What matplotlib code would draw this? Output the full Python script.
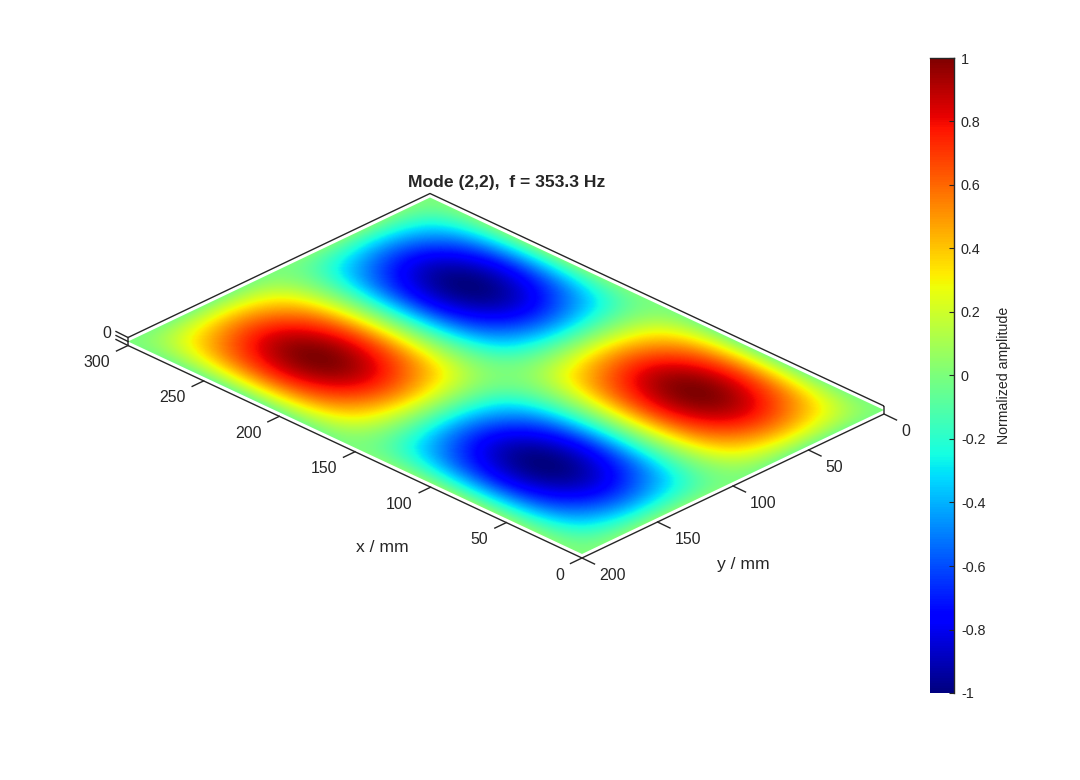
import numpy as np
import matplotlib
matplotlib.use("Agg")
import matplotlib.pyplot as plt
from matplotlib.patches import Polygon
from matplotlib.transforms import Affine2D

plt.rcParams['font.family'] = ['Liberation Sans', 'DejaVu Sans']

# values, rows are y = 0, 25 ... 200, columns are x = 0, 25 ... 300
x_grid = [0, 25, 50, 75, 100, 125, 150, 175, 200, 225, 250, 275, 300]
y_grid = [0, 25, 50, 75, 100, 125, 150, 175, 200]
amplitude = [
    [0, 0, 0, 0, 0, 0, 0, 0, 0, 0, 0, 0, 0],
    [0, 0.39, 0.64, 0.73, 0.64, 0.39, 0, -0.39, -0.64, -0.73, -0.64, -0.39, 0],
    [0, 0.54, 0.88, 1.00, 0.88, 0.54, 0, -0.54, -0.88, -1.00, -0.88, -0.54, 0],
    [0, 0.39, 0.64, 0.73, 0.64, 0.39, 0, -0.39, -0.64, -0.73, -0.64, -0.39, 0],
    [0, 0, 0, 0, 0, 0, 0, 0, 0, 0, 0, 0, 0],
    [0, -0.39, -0.64, -0.73, -0.64, -0.39, 0, 0.39, 0.64, 0.73, 0.64, 0.39, 0],
    [0, -0.54, -0.88, -1.00, -0.88, -0.54, 0, 0.54, 0.88, 1.00, 0.88, 0.54, 0],
    [0, -0.39, -0.64, -0.73, -0.64, -0.39, 0, 0.39, 0.64, 0.73, 0.64, 0.39, 0],
    [0, 0, 0, 0, 0, 0, 0, 0, 0, 0, 0, 0, 0],
]
x_ticks = [0, 50, 100, 150, 200, 250, 300]
y_ticks = [0, 50, 100, 150, 200]
z_ticks = [-1, 0, 1]
cbar_ticks = [-1, -0.8, -0.6, -0.4, -0.2, 0, 0.2, 0.4, 0.6, 0.8, 1]
cbar_labels = ['-1', '-0.8', '-0.6', '-0.4', '-0.2', '0', '0.2', '0.4', '0.6', '0.8', '1']

TEXT = '#262626'
LINE = '#262626'
x_max, y_max = x_grid[-1], y_grid[-1]

fig = plt.figure(figsize=(10.8, 7.8), dpi=100)
ax = fig.add_axes([0, 0, 1, 1])

# fixed view of the plate: mm on the plate -> pixels of the figure
view = Affine2D.from_values(-454 / x_max, -212.5 / x_max, -302 / y_max, 144 / y_max, 884, 410)


def project(x, y, z=0):
    px, py = view.transform((x, y))
    return px, py - 4 * z


# odd padding so the interpolation keeps its slope at the plate edges, the padded part is clipped away
pad = 2
padded = np.pad(np.array(amplitude), pad, mode='reflect', reflect_type='odd')
half = 12.5 + 25 * pad
im = ax.imshow(padded, cmap='jet', vmin=-1, vmax=1, origin='lower',
               extent=[-half, x_max + half, -half, y_max + half],
               interpolation='catrom', interpolation_stage='data', aspect='auto',
               transform=view + ax.transData)
plate = Polygon([project(0, 0), project(x_max, 0), project(x_max, y_max), project(0, y_max)],
                transform=ax.transData, fill=False, edgecolor='none')
ax.add_patch(plate)
im.set_clip_path(plate)

ax.set_xlim(0, 1080)
ax.set_ylim(780, 0)
ax.axis('off')


def line3(points):
    xy = np.array([project(*p) for p in points])
    ax.plot(xy[:, 0], xy[:, 1], color=LINE, lw=1, solid_capstyle='butt')


# box around the plate
line3([(0, 0, 1), (x_max, 0, 1), (x_max, y_max, 1), (x_max, y_max, -1), (0, y_max, -1), (0, 0, -1), (0, 0, 1)])

for t in x_ticks:
    px, py = project(t, y_max, -1)
    ax.plot([px, px - 11.5], [py, py + 5.5], color=LINE, lw=1)
    ax.text(px - 18, py + 17, str(t), ha='right', va='center', fontsize=11.4, color=TEXT)

for t in y_ticks:
    px, py = project(0, t, -1)
    ax.plot([px, px + 12.5], [py, py + 6], color=LINE, lw=1)
    ax.text(px + 17, py + 17.5, str(t), ha='left', va='center', fontsize=11.4, color=TEXT)

for t in z_ticks:
    px, py = project(x_max, y_max, t)
    ax.plot([px, px - 12], [py, py - 6], color=LINE, lw=1)
    if t == 0:
        ax.text(px - 17, py - 8, str(t), ha='right', va='center', fontsize=11.4, color=TEXT)

ax.text(382, 547, 'x / mm', ha='center', va='center', fontsize=12.6, color=TEXT)
ax.text(743, 565, 'y / mm', ha='center', va='center', fontsize=12.6, color=TEXT)
ax.text(507, 182, 'Mode (2,2),  f = 353.3 Hz', ha='center', va='center', fontsize=12.6,
        fontweight='bold', color=TEXT)

# colorbar
cax = fig.add_axes([930 / 1080, 1 - 693 / 780, 24 / 1080, 635 / 780])
cb = fig.colorbar(im, cax=cax, ticks=cbar_ticks)
cb.ax.set_yticklabels(cbar_labels)
cb.outline.set_visible(False)
cax.spines['right'].set_visible(True)
cax.spines['top'].set_visible(True)
cax.spines['right'].set_linewidth(1)
cax.spines['top'].set_linewidth(1)
cax.spines['right'].set_color(LINE)
cax.spines['top'].set_color(LINE)
cax.tick_params(axis='y', direction='in', length=3.5, width=0.8, color=LINE, labelcolor=TEXT,
                labelsize=10.4, pad=5)
cb.set_label('Normalized amplitude', fontsize=10.2, color=TEXT, labelpad=8)

fig.savefig('out.png', dpi=100)
